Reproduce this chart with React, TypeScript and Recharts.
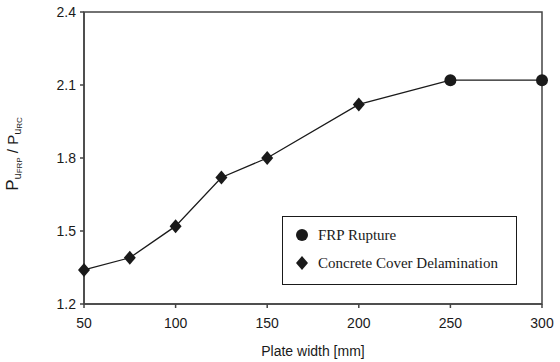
import React from "react"
import { LineChart, Line, XAxis, YAxis, ReferenceArea } from "recharts"

// plate width (mm) vs. strength ratio, with the observed failure mode
const plateWidths = [50, 75, 100, 125, 150, 200, 250, 300]
const strengthRatios = [1.34, 1.39, 1.52, 1.72, 1.8, 2.02, 2.12, 2.12]
const failureModes = [
  "Concrete Cover Delamination",
  "Concrete Cover Delamination",
  "Concrete Cover Delamination",
  "Concrete Cover Delamination",
  "Concrete Cover Delamination",
  "Concrete Cover Delamination",
  "FRP Rupture",
  "FRP Rupture",
]
const legendModes = ["FRP Rupture", "Concrete Cover Delamination"]
const xTicks = [50, 100, 150, 200, 250, 300]
const yTicks = [1.2, 1.5, 1.8, 2.1, 2.4]

const data = plateWidths.map((w, i) => ({
  width: w,
  ratio: strengthRatios[i],
  mode: failureModes[i],
}))

const INK = "#1a1a1a"
const sans = "'Liberation Sans', Arial, sans-serif"
const serif = "'Liberation Serif', 'Times New Roman', serif"

const Marker = ({ cx, cy, mode }: { cx: number; cy: number; mode: string }) => {
  if (mode === "FRP Rupture") {
    return <circle cx={cx} cy={cy} r={6} fill={INK} />
  }
  return (
    <polygon
      points={`${cx},${cy - 7} ${cx + 6},${cy} ${cx},${cy + 7} ${cx - 6},${cy}`}
      fill={INK}
    />
  )
}

const renderDot = (props: any) => (
  <Marker key={`dot-${props.index}`} cx={props.cx} cy={props.cy} mode={props.payload.mode} />
)

const YLabel = (props: any) => {
  const vb = props.viewBox || {}
  const x = 18
  const y = vb.y + vb.height / 2 - 4
  return (
    <text
      x={x}
      y={y}
      transform={`rotate(-90, ${x}, ${y})`}
      textAnchor="middle"
      fill={INK}
      fontFamily={sans}
    >
      <tspan fontSize={17}>P</tspan>
      <tspan fontSize={11} dy={3}>u</tspan>
      <tspan fontSize={8} dy={1}>FRP</tspan>
      <tspan fontSize={15} dy={-4}> / P</tspan>
      <tspan fontSize={11} dy={3}>u</tspan>
      <tspan fontSize={8} dy={1}>RC</tspan>
    </text>
  )
}

// boxed legend drawn over the lower right of the plot
const LegendBox = () => (
  <div
    style={{
      position: "absolute",
      left: 282,
      top: 216,
      width: 235,
      height: 69,
      border: `1.5px solid ${INK}`,
      background: "#fff",
      boxSizing: "border-box",
      padding: "4px 0 0 11px",
      fontFamily: serif,
      fontSize: 15,
      color: INK,
    }}
  >
    {legendModes.map((m) => (
      <div key={m} style={{ display: "flex", alignItems: "center", height: 28 }}>
        <svg width={16} height={16} style={{ marginRight: 8 }}>
          <Marker cx={8} cy={8} mode={m} />
        </svg>
        <span>{m}</span>
      </div>
    ))}
  </div>
)

export default function App() {
  return (
    <div style={{ position: "absolute", left: 0, top: 0, width: 560, height: 362, background: "#fff" }}>
      <LineChart width={560} height={362} data={data} margin={{ top: 12, right: 18, bottom: 0, left: 0 }}>
        <XAxis
          dataKey="width"
          type="number"
          domain={[50, 300]}
          ticks={xTicks}
          height={58}
          stroke="#444"
          strokeWidth={1.5}
          tickSize={4}
          tickMargin={10}
          tick={{ fontSize: 14, fill: INK, fontFamily: sans }}
          label={{
            value: "Plate width [mm]",
            position: "insideBottom",
            offset: 6,
            fontSize: 14,
            fill: INK,
            fontFamily: sans,
          }}
        />
        <YAxis
          type="number"
          domain={[1.2, 2.4]}
          ticks={yTicks}
          width={84}
          stroke="#444"
          strokeWidth={1.5}
          tickSize={4}
          tickMargin={4}
          tickFormatter={(v: number) => v.toFixed(1)}
          tick={{ fontSize: 14, fill: INK, fontFamily: sans }}
          label={<YLabel />}
        />
        <ReferenceArea x1={50} x2={300} y1={1.2} y2={2.4} fill="none" stroke="#444" strokeWidth={1.5} />
        <Line
          dataKey="ratio"
          stroke={INK}
          strokeWidth={1.3}
          dot={renderDot}
          activeDot={false}
          isAnimationActive={false}
        />
      </LineChart>
      <LegendBox />
    </div>
  )
}
